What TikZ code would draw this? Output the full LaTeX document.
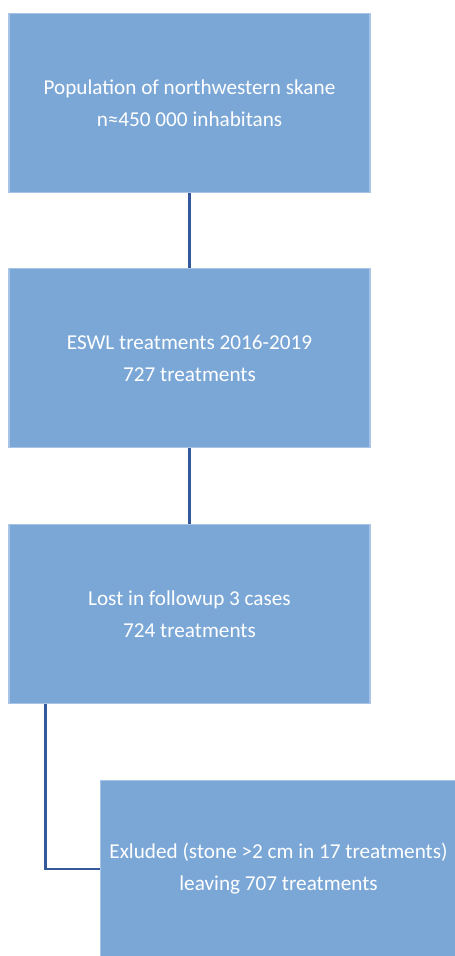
\documentclass[tikz,border=0pt]{standalone}
\usepackage{fontspec}
\setmainfont{Carlito}
\usepackage{xcolor}
\definecolor{boxfill}{HTML}{7BA7D7}
\definecolor{boxedge}{HTML}{A7C4E6}
\definecolor{linkblue}{HTML}{34589C}

\tikzset{
  flowbox/.style={draw=boxedge, line width=1.2pt, fill=boxfill, text=white, align=center,
    minimum width=361pt, minimum height=179pt, inner sep=0pt, font=\fontsize{21.2}{32}\selectfont},
  link/.style={draw=linkblue, line width=2.2pt}
}

\begin{document}
\begin{tikzpicture}[x=1pt,y=-1pt]
  \useasboundingbox (0,0) rectangle (455,956);
  \node[flowbox] (pop) at (189.5,103) {Population of northwestern skane\\n≈450 000 inhabitans};
  \node[flowbox] (eswl) at (189.5,358) {ESWL treatments 2016-2019\\727 treatments};
  \node[flowbox] (lost) at (189.5,614) {Lost in followup 3 cases\\724 treatments};
  \node[flowbox, minimum width=356pt, minimum height=177pt] (excl) at (278.5,869) {Exluded (stone >2 cm in 17 treatments)\\leaving 707 treatments};
  \coordinate (lostleg) at ([xshift=37pt]lost.south west);
  \draw[link] (pop) -- (eswl);
  \draw[link] (eswl) -- (lost);
  \draw[link] (lostleg) |- (excl.west);
\end{tikzpicture}
\end{document}
